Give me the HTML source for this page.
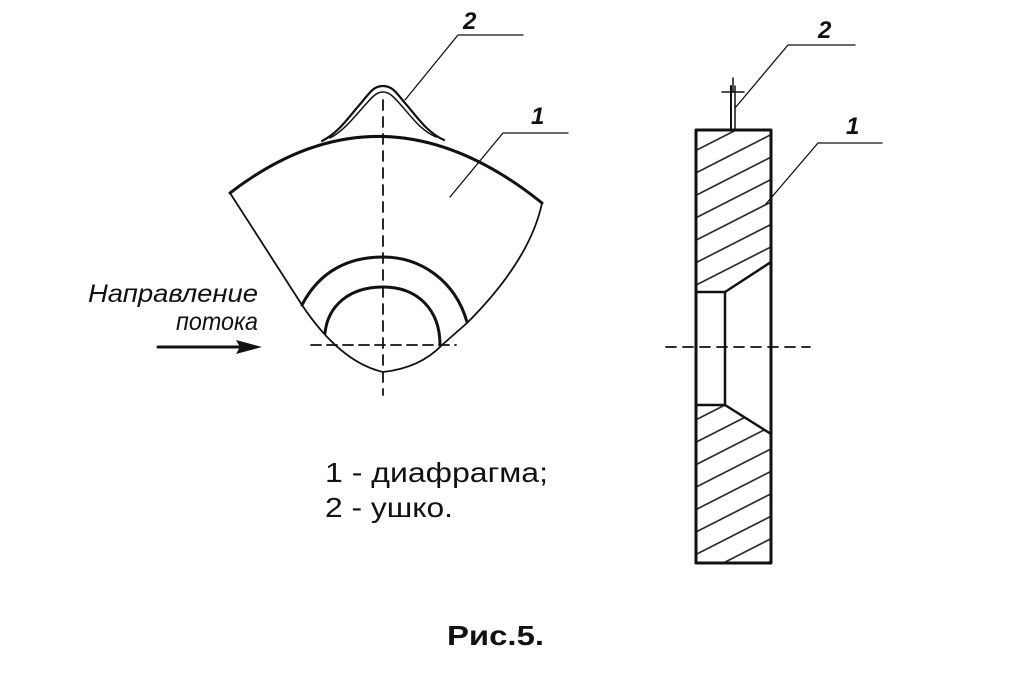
<!DOCTYPE html>
<html><head><meta charset="utf-8"><style>html,body{margin:0;padding:0;background:#fff}svg{display:block}</style></head>
<body>
<svg width="1024" height="684" viewBox="0 0 1024 684" xmlns="http://www.w3.org/2000/svg">
<defs>
<pattern id="h" patternUnits="userSpaceOnUse" width="40" height="20" patternTransform="rotate(-27)">
<line x1="0" y1="10" x2="40" y2="10" stroke="#111" stroke-width="1.6"/>
</pattern>
</defs>
<rect width="1024" height="684" fill="#fff"/>
<g fill="none" stroke="#111" stroke-linecap="round" stroke-linejoin="round">
<!-- left figure -->
<path d="M230,193 Q383,75 542,203" stroke-width="3"/>
<path d="M230,193 L302,305 Q340,362 383,372 Q420,368 442,345 L467,323 Q530,260 542,203" stroke-width="1.8"/>
<path d="M302,305 C320,270 350,257 383,257 C420,257 455,280 467,322" stroke-width="3"/>
<path d="M325,333 C328,305 350,287 383,287 C418,287 440,310 440,345" stroke-width="3"/>
<path d="M322,141 C340,132 350,115 362,102 C370,92 374,86 383,86 C392,86 396,92 404,102 C416,115 426,132 444,140" stroke-width="2.2"/>
<path d="M330,138 C345,130 355,116 366,104 C373,96 377,92 383,92 C389,92 393,96 400,104 C411,116 420,130 436,137" stroke-width="1.5"/>
<line x1="383" y1="100" x2="383" y2="395" stroke-width="1.8" stroke-dasharray="10,7"/>
<line x1="311" y1="345" x2="456" y2="345" stroke-width="1.8" stroke-dasharray="10,6"/>
<polyline points="405,100 458,35 523,35" stroke-width="1.3"/>
<polyline points="450,197 503,133 568,133" stroke-width="1.3"/>
<line x1="158" y1="347" x2="245" y2="347" stroke-width="3"/>
<!-- right figure -->
<rect x="696" y="130" width="75" height="433" stroke-width="3"/>
<path d="M696,130 H771 V262 L725,292 H696 Z" fill="url(#h)" stroke="none"/>
<path d="M696,405 H725 L771,434 V563 H696 Z" fill="url(#h)" stroke="none"/>
<path d="M696,292 H725 L771,262 M725,292 V405 M696,405 H725 L771,434" stroke-width="2.5"/>
<line x1="731" y1="86" x2="731" y2="130" stroke-width="2"/>
<line x1="735" y1="86" x2="735" y2="130" stroke-width="1.5"/>
<line x1="722" y1="92" x2="744" y2="92" stroke-width="1.5"/>
<line x1="733" y1="78" x2="733" y2="92" stroke-width="1.5"/>
<line x1="666" y1="347" x2="810" y2="347" stroke-width="1.8" stroke-dasharray="10,7"/>
<polyline points="735,108 788,45 855,45" stroke-width="1.3"/>
<polyline points="765,205 818,143 882,143" stroke-width="1.3"/>
</g>
<polygon points="262,347 236,340 240,347 236,354" fill="#111"/>
<g font-family="'Liberation Sans', 'DejaVu Sans', sans-serif" fill="#111">
<text x="463" y="29" font-size="24" font-weight="bold" font-style="italic">2</text>
<text x="531" y="124" font-size="24" font-weight="bold" font-style="italic">1</text>
<text x="818" y="38" font-size="24" font-weight="bold" font-style="italic">2</text>
<text x="846" y="134" font-size="24" font-weight="bold" font-style="italic">1</text>
<text x="88" y="302" font-size="25" font-style="italic" textLength="170" lengthAdjust="spacingAndGlyphs">Направление</text>
<text x="176" y="330" font-size="25" font-style="italic" textLength="82" lengthAdjust="spacingAndGlyphs">потока</text>
<text x="325" y="482" font-size="28" textLength="223" lengthAdjust="spacingAndGlyphs">1 - диафрагма;</text>
<text x="325" y="517" font-size="28" textLength="128" lengthAdjust="spacingAndGlyphs">2 - ушко.</text>
<text x="447" y="645" font-size="28" font-weight="bold" textLength="97" lengthAdjust="spacingAndGlyphs">Рис.5.</text>
</g>
</svg>
</body></html>
